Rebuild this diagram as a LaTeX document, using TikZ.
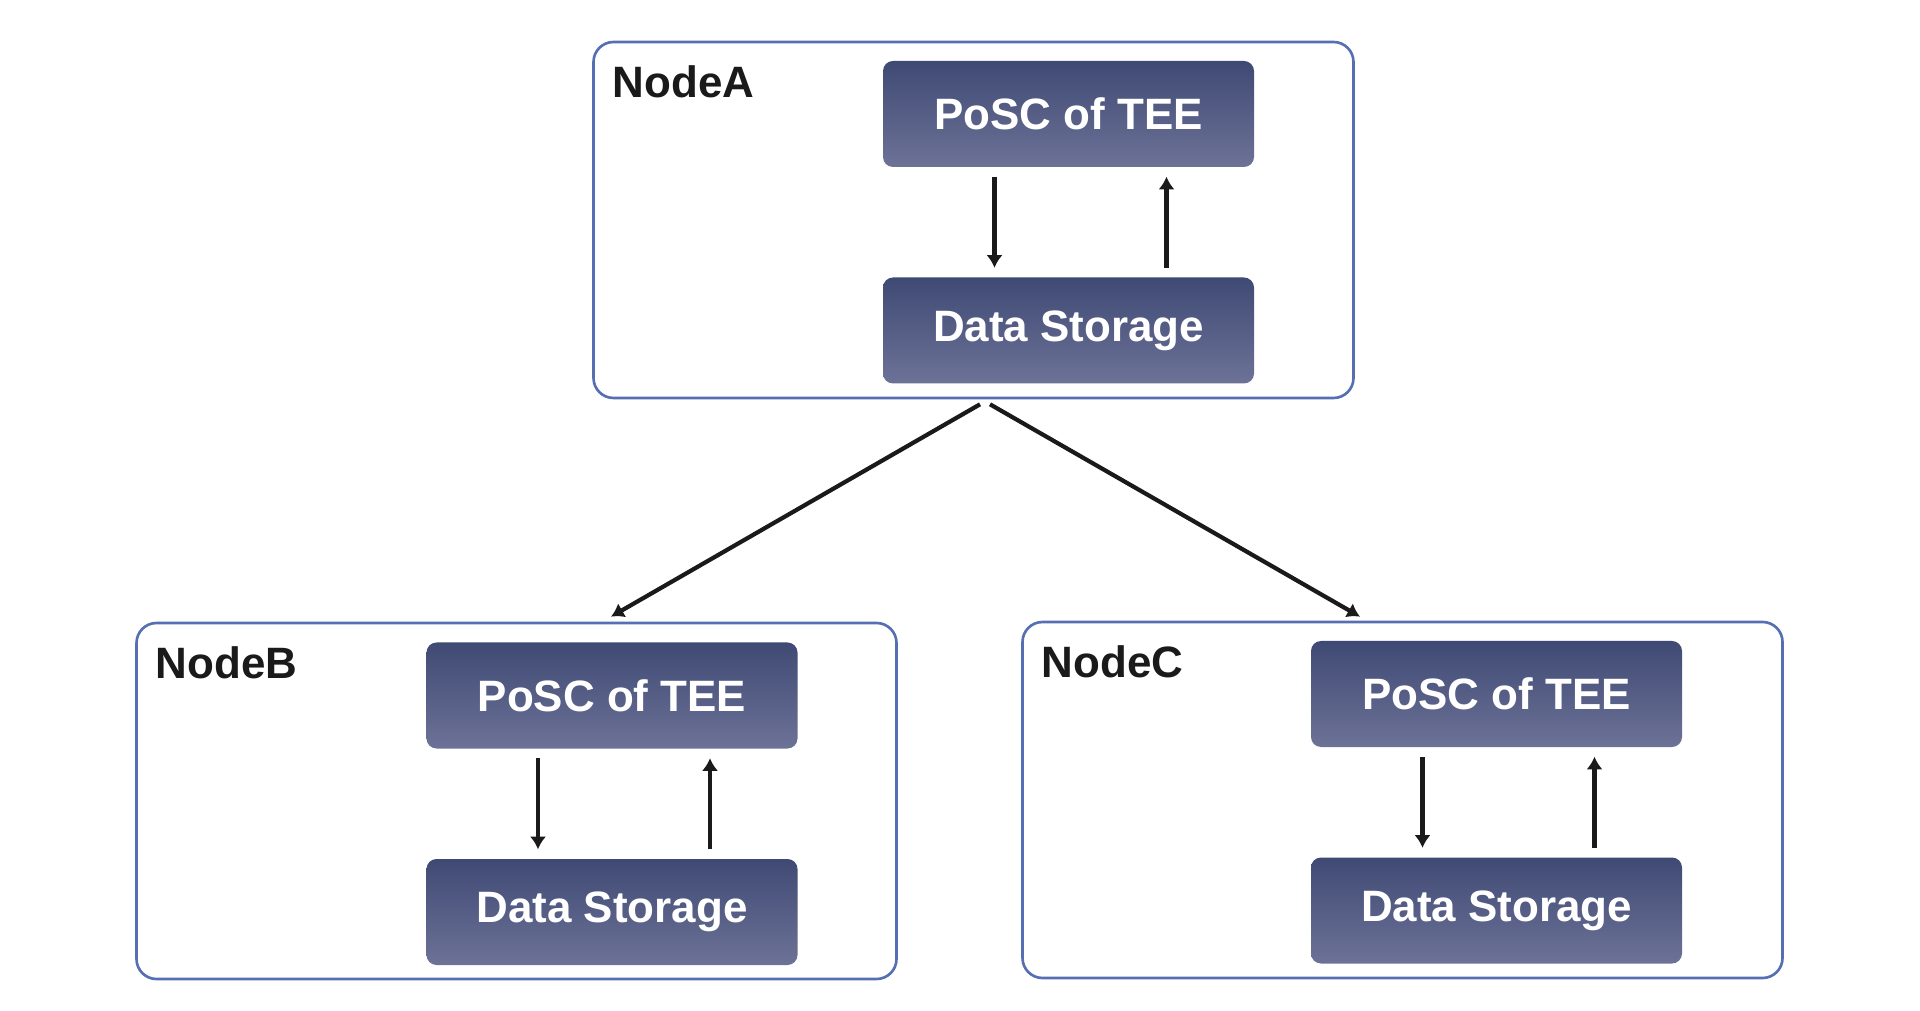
\documentclass[tikz,border=0pt]{standalone}
\usepackage{fontspec}
\setmainfont{Liberation Sans}
\usetikzlibrary{arrows.meta}
\definecolor{boxtop}{RGB}{63,74,116}
\definecolor{boxbottom}{RGB}{109,114,151}
\definecolor{frameblue}{RGB}{86,111,178}
\definecolor{inkblack}{RGB}{26,26,26}
\tikzset{font=\fontsize{12.5pt}{15pt}\selectfont\bfseries}

\begin{document}
\begin{tikzpicture}[
            frame/.style={draw=frameblue,line width=0.75pt,rounded corners=2mm,minimum width=7.6cm,minimum height=3.56cm},
            unit/.style={rounded corners=1mm,top color=boxtop,bottom color=boxbottom,text=white,minimum width=3.71cm,minimum height=1.06cm},
            tag/.style={anchor=north west,inner sep=0pt,text=inkblack},
            flow/.style={draw=inkblack,line width=1.2pt,-{Latex[width=4.6pt,length=3.6pt]}}
            ]
            \useasboundingbox (0,0) rectangle (19.2,-10.11);
            % NodeA
            \node[frame] (A) at (9.735,-2.20) {};
            \node[tag] (labA) at ([xshift=0.2cm,yshift=-0.24cm]A.north west) {NodeA};
            \node[unit] (pA) at (10.685,-1.14) {PoSC of TEE};
            \node[unit] (dA) at (10.685,-3.305) {Data Storage};
            \draw[flow] ([xshift=-0.74cm,yshift=-0.09cm]pA.south) -- ([xshift=-0.74cm,yshift=0.09cm]dA.north);
            \draw[flow] ([xshift=0.98cm,yshift=0.09cm]dA.north) -- ([xshift=0.98cm,yshift=-0.09cm]pA.south);
            % NodeB
            \node[frame] (B) at (5.165,-8.01) {};
            \node[tag] (labB) at ([xshift=0.2cm,yshift=-0.24cm]B.north west) {NodeB};
            \node[unit] (pB) at (6.12,-6.955) {PoSC of TEE};
            \node[unit] (dB) at (6.12,-9.12) {Data Storage};
            \draw[flow] ([xshift=-0.74cm,yshift=-0.09cm]pB.south) -- ([xshift=-0.74cm,yshift=0.09cm]dB.north);
            \draw[flow] ([xshift=0.98cm,yshift=0.09cm]dB.north) -- ([xshift=0.98cm,yshift=-0.09cm]pB.south);
            % NodeC
            \node[frame] (C) at (14.025,-8.00) {};
            \node[tag] (labC) at ([xshift=0.2cm,yshift=-0.24cm]C.north west) {NodeC};
            \node[unit] (pC) at (14.965,-6.94) {PoSC of TEE};
            \node[unit] (dC) at (14.965,-9.105) {Data Storage};
            \draw[flow] ([xshift=-0.74cm,yshift=-0.09cm]pC.south) -- ([xshift=-0.74cm,yshift=0.09cm]dC.north);
            \draw[flow] ([xshift=0.98cm,yshift=0.09cm]dC.north) -- ([xshift=0.98cm,yshift=-0.09cm]pC.south);
            \draw[flow] ([xshift=0.065cm,yshift=-0.05cm]A.south) -- ([xshift=0.945cm,yshift=0.05cm]B.north);
            \draw[flow] ([xshift=0.165cm,yshift=-0.05cm]A.south) -- ([xshift=-0.425cm,yshift=0.04cm]C.north);
\end{tikzpicture}
\end{document}
